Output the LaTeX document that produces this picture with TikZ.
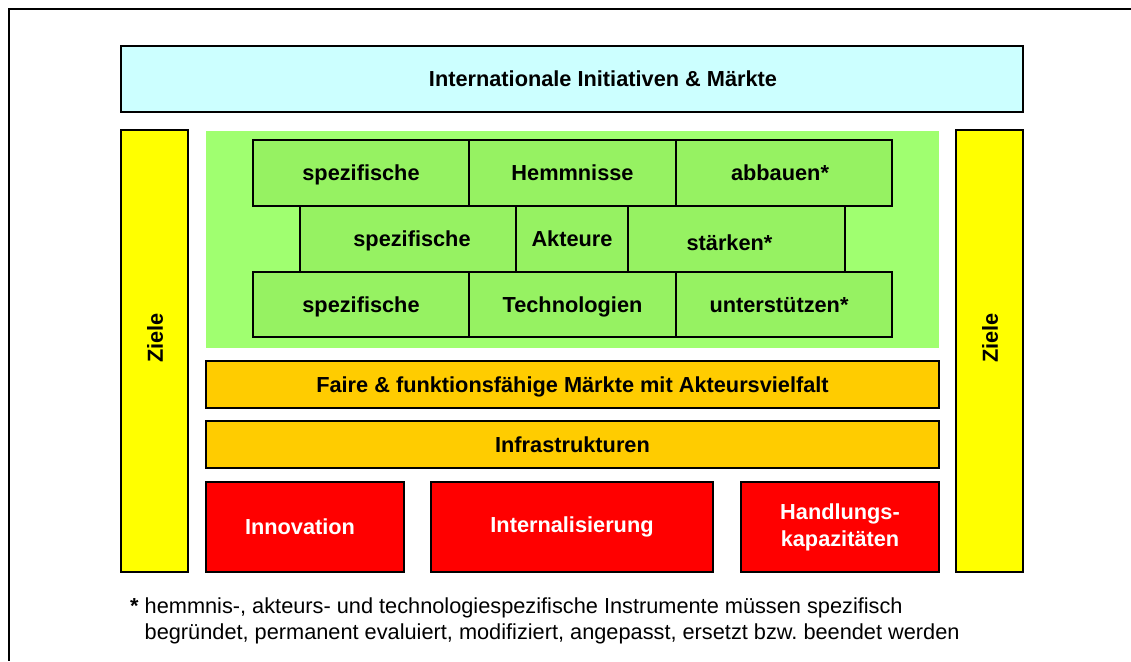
\documentclass[tikz,border=0pt]{standalone}
\usepackage{fontspec}
\setmainfont{Liberation Sans}
\usetikzlibrary{positioning}

\begin{document}
\begin{tikzpicture}[
        x=1pt, y=-1pt,
        box/.style={draw, line width=1.5pt, inner sep=0pt,
            font=\fontsize{21.75}{27}\selectfont\bfseries},
        label/.style={box, text height=15.6pt, text depth=0pt},
        brick/.style={label, fill=brickgreen, minimum height=66pt},
        bar/.style={label, fill=barorange, minimum width=733pt, minimum height=47pt},
        pillar/.style={box, fill=redbox, text=white, align=center, minimum height=90pt},
        goal/.style={box, fill=goalyellow, minimum width=67pt, minimum height=442pt},
    ]
        % Color palette
        \definecolor{topcyan}{RGB}{204,255,255}
        \definecolor{goalyellow}{RGB}{255,255,0}
        \definecolor{wallgreen}{RGB}{160,255,112}
        \definecolor{brickgreen}{RGB}{150,242,98}
        \definecolor{barorange}{RGB}{255,204,0}
        \definecolor{redbox}{RGB}{255,0,0}
        \useasboundingbox (0,0) rectangle (1131,661);
        % Frame
        \draw[line width=2pt] (1131,9) -- (9,9) -- (9,661);

        % Top bar and goals
        \node[label, fill=topcyan, minimum width=902pt, minimum height=66pt] (intl) at (572,79) {\hspace*{62pt}Internationale Initiativen \& Märkte};
        \node[goal] (goalL) at (154.5,351) {};
        \node[goal] (goalR) at (989.5,351) {};
        \node[font=\fontsize{21.75}{27}\selectfont\bfseries, rotate=90] (zieleL) at (155,338) {Ziele};
        \node[font=\fontsize{21.75}{27}\selectfont\bfseries, rotate=90] (zieleR) at (990,338) {Ziele};

        % Wall of bricks
        \node[fill=wallgreen, minimum width=733pt, minimum height=217pt, inner sep=0pt] (wall) at (572.5,239.5) {};
        \node[brick, minimum width=216pt] (h1) at (361,173) {spezifische};
        \node[brick, minimum width=207pt] (h2) at (572.5,173) {Hemmnisse};
        \node[brick, minimum width=216pt] (h3) at (784,173) {\hspace*{-8pt}abbauen*};
        \node[brick, minimum width=216pt] (a1) at (408,239) {\hspace*{8pt}spezifische};
        \node[brick, minimum width=112pt] (a2) at (572,239) {Akteure};
        \node[brick, minimum width=217pt] (a3) at (736.5,239) {\hspace*{-14pt}\raisebox{-4pt}{stärken*}};
        \node[brick, minimum width=216pt, minimum height=65pt] (t1) at (361,304.5) {spezifische};
        \node[brick, minimum width=207pt, minimum height=65pt] (t2) at (572.5,304.5) {Technologien};
        \node[brick, minimum width=216pt, minimum height=65pt] (t3) at (784,304.5) {\hspace*{-10pt}unterstützen*};

        % Foundations
        \node[bar] (markets) at (572.5,384.5) {Faire \& funktionsfähige Märkte mit Akteursvielfalt};
        \node[bar] (infra) at (572.5,444.5) {Infrastrukturen};
        \node[pillar, minimum width=198pt] (innov) at (305,527) {\hspace*{-10pt}Innovation};
        \node[pillar, minimum width=282pt] (intern) at (572,527) {Internalisierung};
        \node[pillar, minimum width=198pt] (capac) at (840,527) {Handlungs-\\kapazitäten};

        % Footnote
        \node[anchor=base west, inner sep=0pt, align=left, font=\fontsize{21.75}{26}\selectfont\frenchspacing] (note) at (130,639)
            {\textbf{*} hemmnis-, akteurs- und technologiespezifische Instrumente müssen spezifisch\\
             \hphantom{\textbf{*} }begründet, permanent evaluiert, modifiziert, angepasst, ersetzt bzw. beendet werden};
    \end{tikzpicture}
\end{document}
